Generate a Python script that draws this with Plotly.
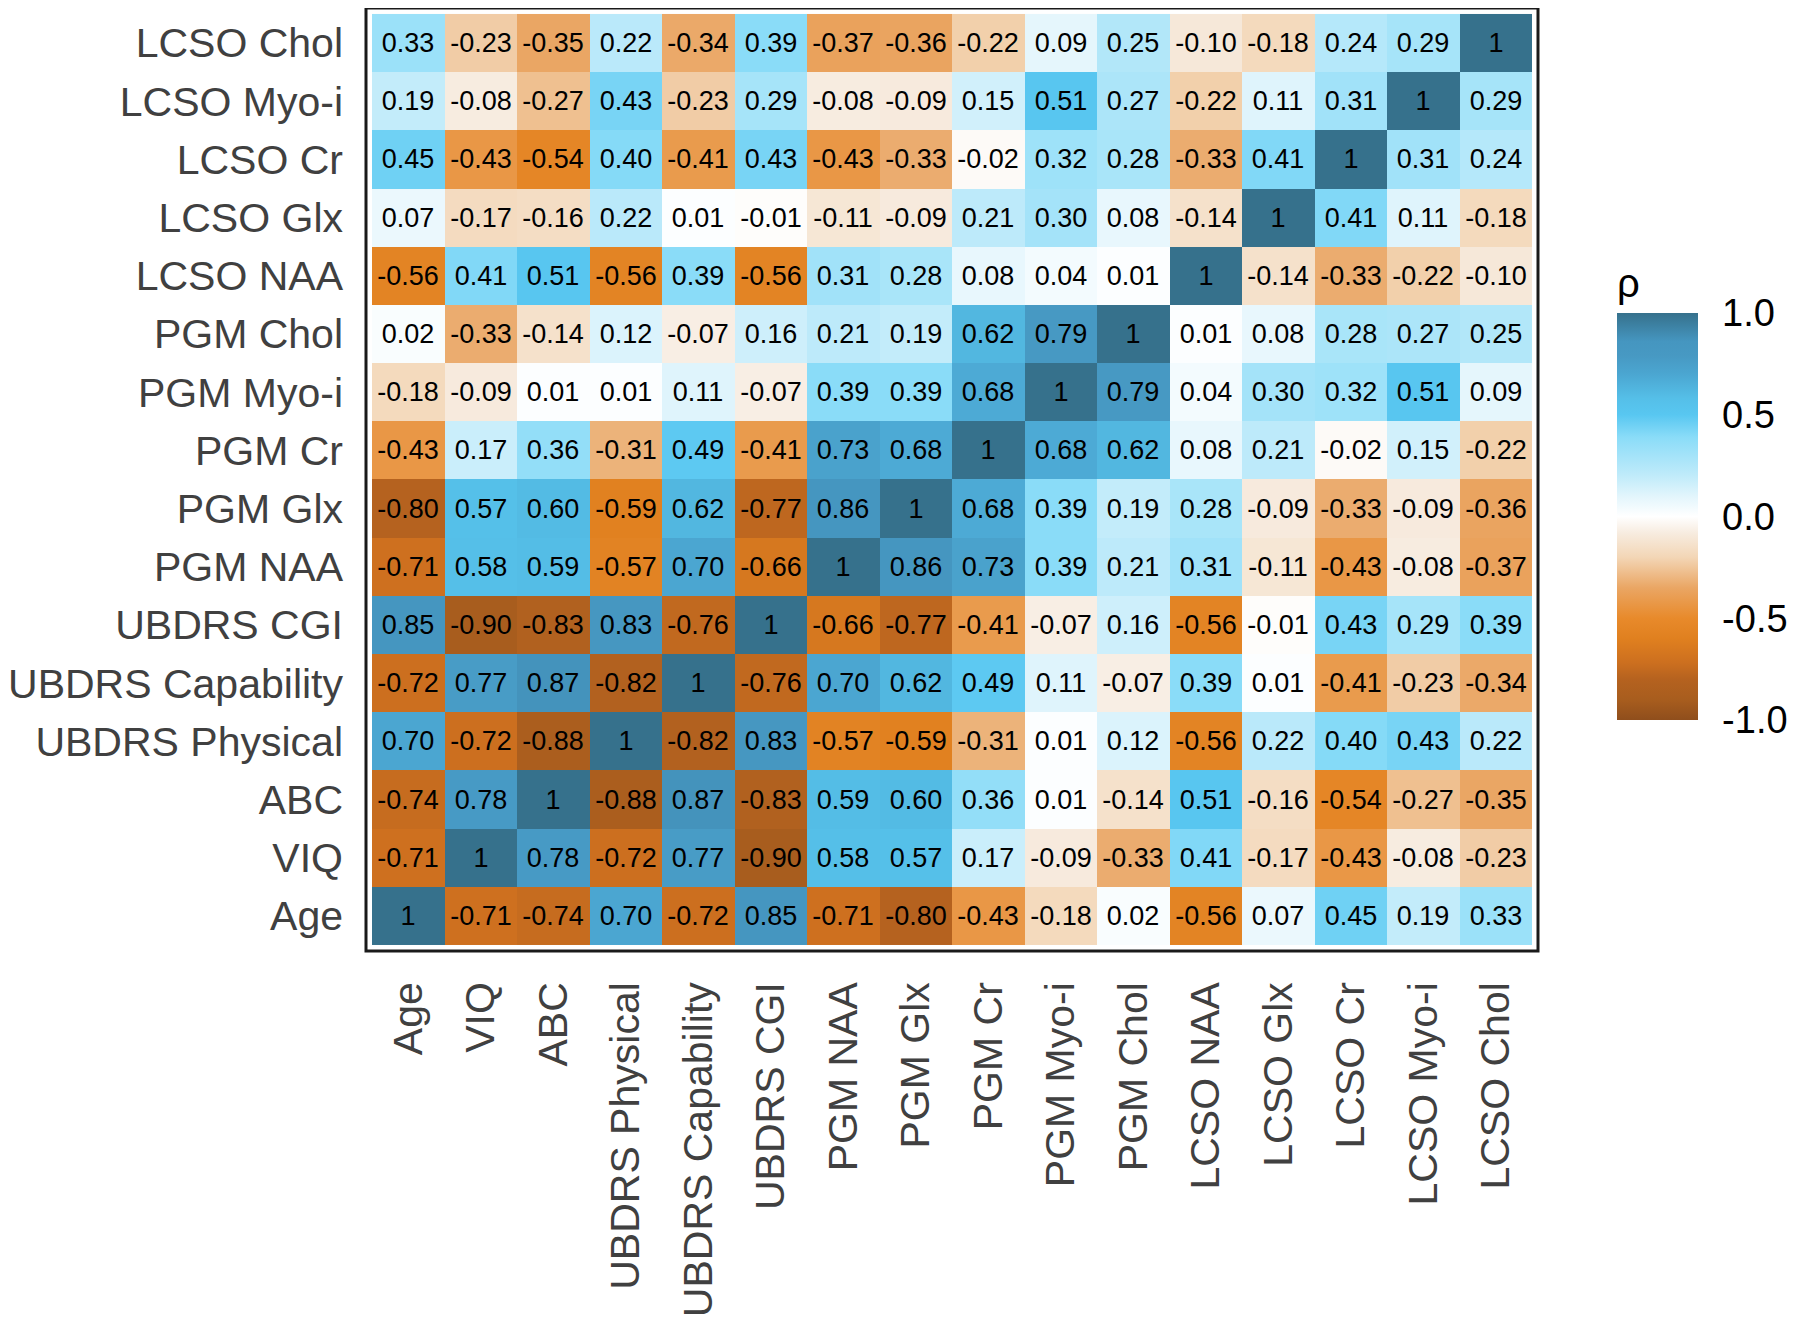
import plotly.graph_objects as go

labels = ["Age", "VIQ", "ABC", "UBDRS Physical", "UBDRS Capability", "UBDRS CGI",
          "PGM NAA", "PGM Glx", "PGM Cr", "PGM Myo-i", "PGM Chol",
          "LCSO NAA", "LCSO Glx", "LCSO Cr", "LCSO Myo-i", "LCSO Chol"]

# rows in the same order as labels (Age first -> bottom row)
r_age = [1, -0.71, -0.74, 0.70, -0.72, 0.85, -0.71, -0.80, -0.43, -0.18, 0.02, -0.56, 0.07, 0.45, 0.19, 0.33]
r_viq = [-0.71, 1, 0.78, -0.72, 0.77, -0.90, 0.58, 0.57, 0.17, -0.09, -0.33, 0.41, -0.17, -0.43, -0.08, -0.23]
r_abc = [-0.74, 0.78, 1, -0.88, 0.87, -0.83, 0.59, 0.60, 0.36, 0.01, -0.14, 0.51, -0.16, -0.54, -0.27, -0.35]
r_phys = [0.70, -0.72, -0.88, 1, -0.82, 0.83, -0.57, -0.59, -0.31, 0.01, 0.12, -0.56, 0.22, 0.40, 0.43, 0.22]
r_cap = [-0.72, 0.77, 0.87, -0.82, 1, -0.76, 0.70, 0.62, 0.49, 0.11, -0.07, 0.39, 0.01, -0.41, -0.23, -0.34]
r_cgi = [0.85, -0.90, -0.83, 0.83, -0.76, 1, -0.66, -0.77, -0.41, -0.07, 0.16, -0.56, -0.01, 0.43, 0.29, 0.39]
r_pnaa = [-0.71, 0.58, 0.59, -0.57, 0.70, -0.66, 1, 0.86, 0.73, 0.39, 0.21, 0.31, -0.11, -0.43, -0.08, -0.37]
r_pglx = [-0.80, 0.57, 0.60, -0.59, 0.62, -0.77, 0.86, 1, 0.68, 0.39, 0.19, 0.28, -0.09, -0.33, -0.09, -0.36]
r_pcr = [-0.43, 0.17, 0.36, -0.31, 0.49, -0.41, 0.73, 0.68, 1, 0.68, 0.62, 0.08, 0.21, -0.02, 0.15, -0.22]
r_pmyo = [-0.18, -0.09, 0.01, 0.01, 0.11, -0.07, 0.39, 0.39, 0.68, 1, 0.79, 0.04, 0.30, 0.32, 0.51, 0.09]
r_pchol = [0.02, -0.33, -0.14, 0.12, -0.07, 0.16, 0.21, 0.19, 0.62, 0.79, 1, 0.01, 0.08, 0.28, 0.27, 0.25]
r_lnaa = [-0.56, 0.41, 0.51, -0.56, 0.39, -0.56, 0.31, 0.28, 0.08, 0.04, 0.01, 1, -0.14, -0.33, -0.22, -0.10]
r_lglx = [0.07, -0.17, -0.16, 0.22, 0.01, -0.01, -0.11, -0.09, 0.21, 0.30, 0.08, -0.14, 1, 0.41, 0.11, -0.18]
r_lcr = [0.45, -0.43, -0.54, 0.40, -0.41, 0.43, -0.43, -0.33, -0.02, 0.32, 0.28, -0.33, 0.41, 1, 0.31, 0.24]
r_lmyo = [0.19, -0.08, -0.27, 0.43, -0.23, 0.29, -0.08, -0.09, 0.15, 0.51, 0.27, -0.22, 0.11, 0.31, 1, 0.29]
r_lchol = [0.33, -0.23, -0.35, 0.22, -0.34, 0.39, -0.37, -0.36, -0.22, 0.09, 0.25, -0.10, -0.18, 0.24, 0.29, 1]

z = [r_age, r_viq, r_abc, r_phys, r_cap, r_cgi, r_pnaa, r_pglx, r_pcr, r_pmyo,
     r_pchol, r_lnaa, r_lglx, r_lcr, r_lmyo, r_lchol]

cbar_ticks = [-1.0, -0.5, 0.0, 0.5, 1.0]
cbar_text = ["-1.0", "-0.5", "0.0", "0.5", "1.0"]

text = [["1" if v == 1 else f"{v:.2f}" for v in row] for row in z]

colorscale = [
    [0.0, "#8f4e1c"],
    [0.05, "#a85d1e"],
    [0.10, "#b5621f"],
    [0.14, "#cc6f1f"],
    [0.20, "#e0801f"],
    [0.25, "#e88a2b"],
    [0.325, "#eaa664"],
    [0.40, "#f3d6b6"],
    [0.46, "#f7ece0"],
    [0.5, "#ffffff"],
    [0.55, "#e2f5fc"],
    [0.60, "#c0ebfa"],
    [0.695, "#8adcf8"],
    [0.75, "#58c7f1"],
    [0.79, "#55bfe8"],
    [0.85, "#4ba6d1"],
    [0.895, "#4799c3"],
    [0.93, "#4596c0"],
    [1.0, "#36718c"],
]

fig = go.Figure(go.Heatmap(
    z=z, x=labels, y=labels, text=text, texttemplate="%{text}",
    textfont=dict(size=27, color="black", family="Liberation Sans, Arial"),
    colorscale=colorscale, zmin=-1, zmax=1, xgap=0, ygap=0,
    colorbar=dict(
        title=dict(text="ρ", side="top", font=dict(size=40, color="black")),
        tickvals=cbar_ticks, ticktext=cbar_text,
        tickfont=dict(size=38, color="black"),
        ticks="outside", ticklen=17, tickcolor="white", tickwidth=1,
        thickness=81, thicknessmode="pixels", len=456, lenmode="pixels",
        x=1.0674, xanchor="left", xpad=0, y=0.245, yanchor="bottom", ypad=0,
        outlinewidth=0,
    ),
))

pad_x = 6 / 72.5
pad_y = 6 / 58.4
fig.update_xaxes(range=[-0.5 - pad_x, 15.5 + pad_x], tickangle=-90, showgrid=False,
                 zeroline=False, ticks="", ticklabelstandoff=22,
                 tickfont=dict(size=41, color="#404040"))
fig.update_yaxes(range=[-0.5 - pad_y, 15.5 + pad_y], showgrid=False, zeroline=False,
                 ticks="", ticklabelstandoff=22,
                 tickfont=dict(size=41, color="#404040"))

fig.add_shape(type="rect", xref="paper", yref="paper", x0=0, x1=1, y0=0, y1=1,
              line=dict(color="#1a1a1a", width=3), fillcolor="rgba(0,0,0,0)")

fig.update_layout(
    width=1792, height=1311,
    margin=dict(l=358, r=262, t=0, b=368, autoexpand=False),
    paper_bgcolor="white", plot_bgcolor="white",
    font=dict(family="Liberation Sans, Arial, sans-serif"),
)

fig.write_html("out.html")
